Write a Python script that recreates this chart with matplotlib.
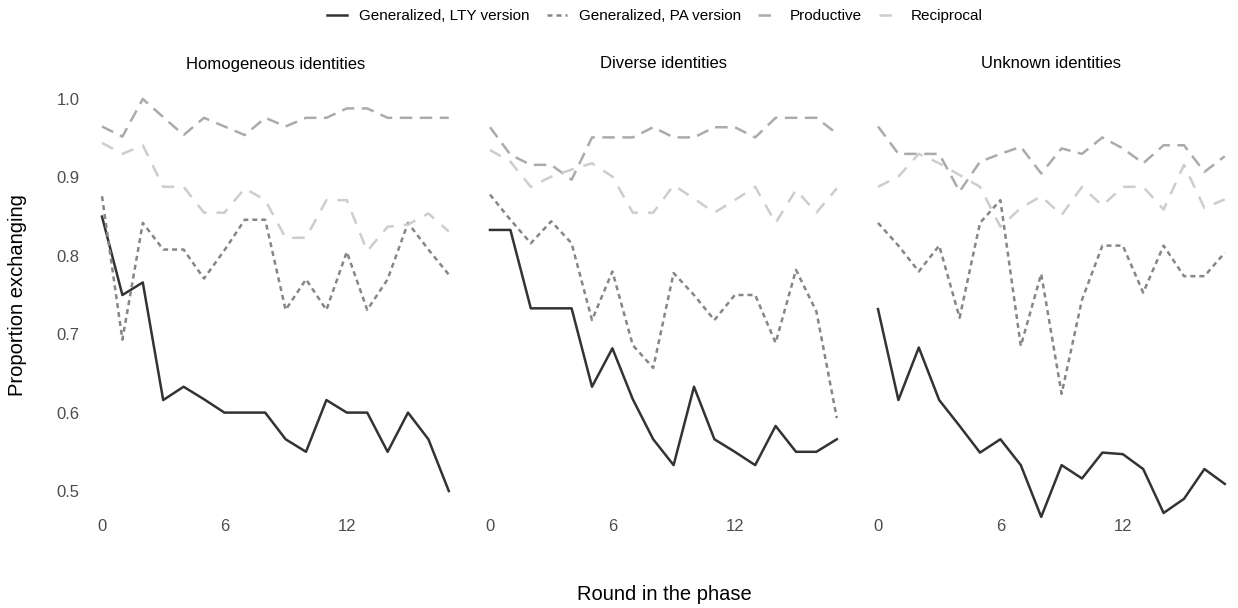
import numpy as np
import matplotlib
matplotlib.use("Agg")
import matplotlib.pyplot as plt
from matplotlib.lines import Line2D

plt.rcParams['font.family'] = ['Liberation Sans', 'DejaVu Sans']

# rounds in each phase
rounds = list(range(18))
panels = ["Homogeneous identities", "Diverse identities", "Unknown identities"]

# Generalized, LTY version
lty_homog = [0.850, 0.750, 0.766, 0.616, 0.633, 0.617, 0.600, 0.600, 0.600, 0.566, 0.550, 0.616, 0.600, 0.600, 0.550, 0.600, 0.566, 0.500]
lty_diverse = [0.833, 0.833, 0.733, 0.733, 0.733, 0.633, 0.682, 0.617, 0.566, 0.533, 0.633, 0.566, 0.550, 0.533, 0.583, 0.550, 0.550, 0.566]
lty_unknown = [0.732, 0.616, 0.683, 0.616, 0.583, 0.549, 0.566, 0.533, 0.467, 0.533, 0.516, 0.549, 0.547, 0.528, 0.472, 0.490, 0.528, 0.509]

# Generalized, PA version
pa_homog = [0.876, 0.693, 0.842, 0.808, 0.808, 0.771, 0.807, 0.846, 0.846, 0.731, 0.770, 0.731, 0.805, 0.731, 0.770, 0.842, 0.808, 0.776]
pa_diverse = [0.878, 0.846, 0.816, 0.844, 0.816, 0.718, 0.780, 0.686, 0.657, 0.778, 0.750, 0.718, 0.750, 0.750, 0.689, 0.782, 0.729, 0.593]
pa_unknown = [0.842, 0.813, 0.780, 0.813, 0.721, 0.842, 0.871, 0.685, 0.777, 0.624, 0.744, 0.813, 0.813, 0.753, 0.813, 0.774, 0.774, 0.804]

# Productive
prod_homog = [0.965, 0.952, 1.000, 0.977, 0.954, 0.976, 0.965, 0.954, 0.976, 0.965, 0.976, 0.976, 0.988, 0.988, 0.976, 0.976, 0.976, 0.976]
prod_diverse = [0.964, 0.929, 0.916, 0.916, 0.897, 0.951, 0.951, 0.951, 0.964, 0.951, 0.951, 0.964, 0.964, 0.951, 0.976, 0.976, 0.976, 0.956]
prod_unknown = [0.965, 0.930, 0.930, 0.930, 0.882, 0.920, 0.930, 0.939, 0.905, 0.937, 0.930, 0.951, 0.937, 0.918, 0.941, 0.941, 0.907, 0.927]

# Reciprocal
recip_homog = [0.944, 0.930, 0.941, 0.888, 0.888, 0.855, 0.855, 0.886, 0.871, 0.823, 0.823, 0.871, 0.871, 0.806, 0.837, 0.840, 0.854, 0.831]
recip_diverse = [0.935, 0.920, 0.888, 0.901, 0.910, 0.918, 0.901, 0.855, 0.855, 0.890, 0.873, 0.855, 0.871, 0.888, 0.842, 0.884, 0.855, 0.886]
recip_unknown = [0.888, 0.901, 0.930, 0.918, 0.903, 0.888, 0.837, 0.861, 0.876, 0.852, 0.888, 0.864, 0.888, 0.888, 0.859, 0.916, 0.861, 0.872]

series = ["Generalized, LTY version", "Generalized, PA version", "Productive", "Reciprocal"]
data = {
    "Generalized, LTY version": [lty_homog, lty_diverse, lty_unknown],
    "Generalized, PA version": [pa_homog, pa_diverse, pa_unknown],
    "Productive": [prod_homog, prod_diverse, prod_unknown],
    "Reciprocal": [recip_homog, recip_diverse, recip_unknown],
}
styles = {
    "Generalized, LTY version": dict(color="#333333", dashes=(None, None)),
    "Generalized, PA version": dict(color="#868686", dashes=(2.0, 1.6)),
    "Productive": dict(color="#ababab", dashes=(5.0, 3.0)),
    "Reciprocal": dict(color="#cdcdcd", dashes=(5.0, 4.0)),
}

W, H = 1238, 608
fig = plt.figure(figsize=(W / 100, H / 100), dpi=100)

px_per_round = 20.4
origins = [102, 490, 878]
y_top_px, y_bot_px = 99, 491  # 1.0 and 0.5
ppv = (y_bot_px - y_top_px) / 0.5
ylo, yhi = 0.466, 1.027
ax_top = y_top_px - (yhi - 1.0) * ppv
ax_bot = y_bot_px + (0.5 - ylo) * ppv
xlo, xhi = -0.85, 17.85

for k, (name, x0) in enumerate(zip(panels, origins)):
    left = x0 + xlo * px_per_round
    right = x0 + xhi * px_per_round
    ax = fig.add_axes([left / W, 1 - ax_bot / H, (right - left) / W, (ax_bot - ax_top) / H])
    for s in series:
        st = styles[s]
        line, = ax.plot(rounds, data[s][k], color=st["color"], lw=1.8, clip_on=False)
        if st["dashes"][0] is not None:
            line.set_dashes(st["dashes"])
    ax.set_xlim(xlo, xhi)
    ax.set_ylim(ylo, yhi)
    ax.set_xticks([0, 6, 12])
    ax.set_yticks([0.5, 0.6, 0.7, 0.8, 0.9, 1.0])
    ax.set_yticklabels(["0.5", "0.6", "0.7", "0.8", "0.9", "1.0"] if k == 0 else [])
    ax.tick_params(length=0, labelsize=12, labelcolor="#4d4d4d")
    ax.tick_params(axis="x", pad=1)
    ax.tick_params(axis="y", pad=3.5)
    for sp in ax.spines.values():
        sp.set_visible(False)
    ax.set_facecolor("none")
    fig.text((x0 + 8.5 * px_per_round) / W, 1 - 64 / H, name, ha="center", va="center", fontsize=12)

fig.text(18 / W, 1 - 295 / H, "Proportion exchanging", rotation=90, ha="center", va="center", fontsize=14.5)
fig.text(664 / W, 1 - 595 / H, "Round in the phase", ha="center", va="center", fontsize=14.5)

handles = []
for s in series:
    st = styles[s]
    h = Line2D([], [], color=st["color"], lw=1.8)
    if st["dashes"][0] is not None:
        h.set_dashes(st["dashes"])
    handles.append(h)
fig.legend(handles, series, loc="center", bbox_to_anchor=(655 / W, 1 - 16 / H), ncol=4, frameon=False,
           fontsize=11, handlelength=1.3, columnspacing=1.1, handletextpad=0.8)

fig.savefig("out.png", dpi=100)
